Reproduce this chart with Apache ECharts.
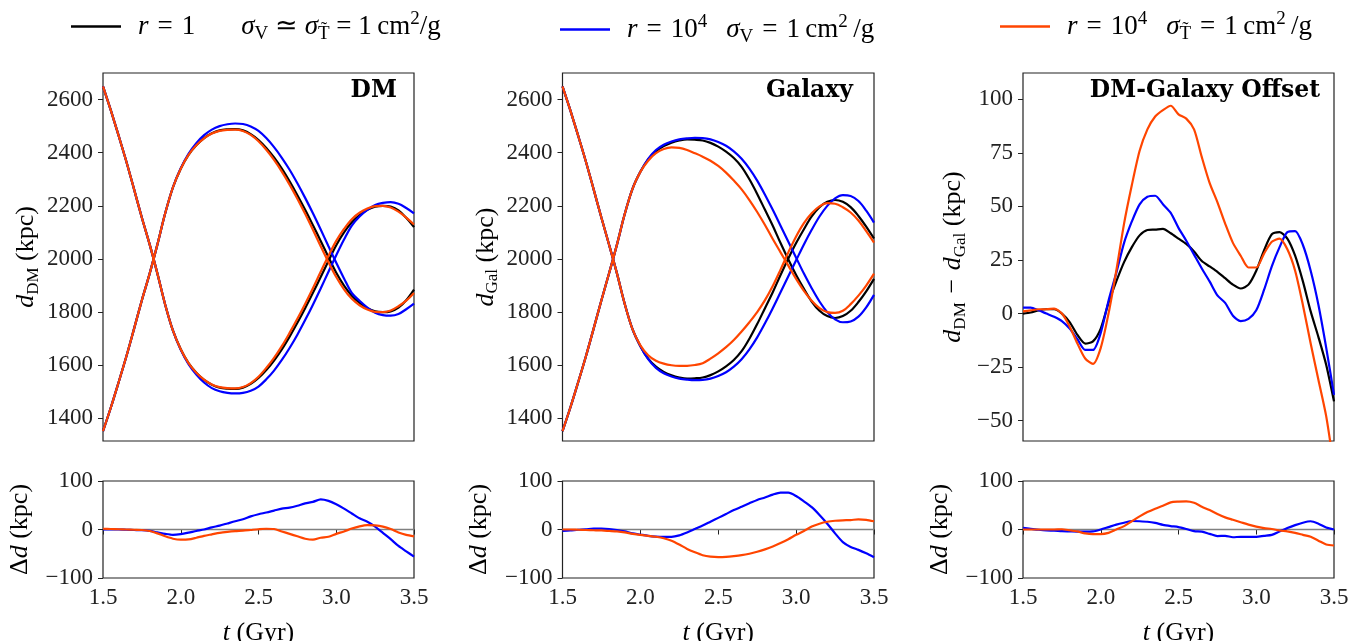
<!DOCTYPE html>
<html><head><meta charset="utf-8">
<script src="https://cdn.jsdelivr.net/npm/echarts@6/dist/echarts.min.js"></script>
<style>html,body{margin:0;padding:0;background:#fff}#c{width:1360px;height:641px}</style>
</head><body><div id="c"></div>
<script>
// ---------------- data ----------------
const tFine = [1.5,1.55,1.6,1.65,1.7,1.75,1.8,1.85,1.9,1.95,2.0,2.05,2.1,2.15,2.2,2.25,2.3,2.35,2.4,2.45,2.5,2.55,2.6,2.65,2.7,2.75,2.8,2.85,2.9,2.95,3.0,3.05,3.1,3.15,3.2,3.25,3.3,3.35,3.4,3.45,3.5];

// DM positions (kpc)
const dmBlackAsc   = [1352,1440,1535,1633,1738,1845,1945,2055,2172,2270,2340,2392,2428,2455,2473,2484,2488,2489,2484,2470,2448,2418,2382,2340,2292,2240,2185,2127,2068,2007,1948,1900,1862,1835,1815,1803,1800,1803,1817,1845,1885];
const dmBlackDesc  = [2650,2560,2465,2367,2262,2155,2055,1945,1828,1730,1660,1608,1572,1545,1527,1516,1512,1511,1516,1530,1552,1582,1618,1660,1708,1760,1815,1873,1932,1993,2052,2100,2138,2165,2185,2197,2200,2197,2183,2155,2120];
const dmBlueAsc    = [1352,1440,1535,1633,1738,1845,1945,2055,2172,2270,2342,2396,2436,2466,2487,2500,2507,2510,2508,2499,2482,2455,2421,2381,2336,2285,2230,2172,2111,2048,1986,1927,1872,1843,1817,1798,1789,1787,1793,1811,1832];
const dmBlueDesc   = [2650,2560,2465,2367,2262,2155,2055,1945,1828,1730,1658,1604,1565,1535,1514,1502,1496,1494,1496,1504,1520,1547,1580,1620,1665,1715,1770,1828,1889,1952,2014,2073,2126,2160,2185,2203,2211,2214,2208,2192,2172];
const dmOrangeAsc  = [1352,1440,1535,1633,1738,1845,1945,2055,2172,2270,2340,2392,2428,2454,2472,2482,2486,2487,2482,2467,2443,2411,2373,2329,2280,2227,2170,2110,2048,1988,1932,1886,1850,1826,1810,1801,1800,1806,1822,1843,1872];
const dmOrangeDesc = [2650,2560,2465,2367,2262,2155,2055,1945,1828,1730,1660,1608,1572,1546,1528,1518,1514,1513,1518,1533,1557,1590,1628,1672,1722,1775,1831,1890,1952,2012,2068,2113,2150,2174,2190,2199,2200,2194,2178,2156,2130];

// Galaxy positions (kpc)
const galBlackAsc   = [1352,1440,1535,1633,1738,1845,1948,2055,2170,2265,2328,2375,2405,2425,2438,2446,2450,2449,2446,2437,2423,2404,2380,2347,2300,2245,2185,2125,2060,1998,1940,1888,1840,1805,1785,1778,1785,1805,1838,1878,1925];
const galBlackDesc  = [2650,2560,2465,2367,2262,2155,2052,1945,1830,1735,1672,1625,1595,1575,1562,1554,1550,1551,1554,1563,1577,1596,1620,1653,1700,1755,1815,1875,1940,2002,2060,2112,2160,2195,2215,2222,2215,2195,2162,2122,2077];
const galBlueAsc    = [1352,1440,1535,1633,1738,1845,1948,2055,2170,2265,2328,2377,2410,2430,2442,2450,2454,2456,2455,2450,2440,2426,2405,2377,2340,2295,2242,2185,2125,2065,2005,1945,1890,1840,1800,1773,1762,1765,1783,1818,1865];
const galBlueDesc   = [2650,2560,2465,2367,2262,2155,2052,1945,1830,1735,1672,1623,1590,1570,1558,1550,1546,1544,1545,1550,1560,1574,1595,1623,1660,1705,1758,1815,1875,1935,1995,2055,2110,2160,2200,2228,2240,2237,2218,2182,2137];
const galOrangeAsc  = [1352,1440,1535,1633,1738,1845,1948,2055,2170,2265,2328,2370,2398,2414,2420,2418,2410,2398,2385,2370,2350,2325,2295,2262,2222,2177,2128,2075,2025,1975,1925,1880,1843,1815,1800,1797,1805,1830,1862,1900,1945];
const galOrangeDesc = [2650,2560,2465,2367,2262,2155,2052,1945,1830,1735,1675,1638,1617,1606,1600,1598,1598,1601,1608,1625,1645,1668,1695,1727,1762,1800,1845,1898,1960,2025,2085,2135,2172,2198,2210,2208,2195,2175,2145,2105,2062];

// DM - Galaxy offset (kpc)
const offBlack  = [0,0.5,1.5,2,2,0,-4,-10,-14,-13,-7,5,15,24,31,36.5,39,39.2,39.5,37.5,35,32.5,29,24.5,22,19.5,16.5,13.5,11.7,13.5,20,29.5,37,38,35,27,15,1,-11,-24,-41];
const offBlue   = [2.8,2.8,1.5,0,-1.5,-3.5,-7,-12,-17,-17,-9,6,19,33,43,51,54.5,55,51,47,40,34,27.5,21,15,8.5,5,-1,-3.5,-2.5,1.5,11,22,31,38,38.5,32,20,4,-16,-38];
const offOrange = [1,1.5,2,2,2.3,0,-6,-14,-21,-23.5,-16,0,20,42,60,76,86,92,95,97,93,91,86,73,61,52,42,33,27,21.5,21.5,28,33.5,35,30,20,4,-14,-31,-48,-72];

// Delta d (kpc)
const ddDmBlue    = [0,0,0,-0.5,-1,-1.5,-3,-6,-9,-11,-9.5,-6.5,-3,0,4.5,8,12.5,17,21,27,31.5,35,39,43,45,49,54,57,62,59,52,43,33,23,16,6,-7,-20,-34,-45,-56];
const ddDmOrange  = [1.5,1,0.5,0,-0.5,-1,-3,-8,-14,-19,-21,-20.5,-17,-13,-10,-7,-5,-3.5,-2.5,-1,0.5,1.5,1,-4,-9,-14,-19,-21,-17,-15,-9,-4,2,6.5,9,8.5,6,1,-6,-11,-14];
const ddGalBlue   = [-3,-2,-0.5,0.5,2,2,1,-1,-4,-8,-10.5,-13,-14.5,-15,-15,-12,-6,1,8,16,24,32,40,47,54,61,66,72,76,76,69,58,46,30,12,-8,-26,-36,-42,-49,-57];
const ddGalOrange = [0,0,-0.5,-1,-1.5,-2,-3,-4,-6,-9,-11,-13,-15,-18,-23,-31,-40,-47,-53,-56,-57,-56.5,-55,-53,-50,-46,-41,-35,-28,-20,-11,-3,6,12,16,18,19,19.5,21,20,17];
const ddOffBlue   = [3.5,1.5,-0.5,-2,-2.5,-3.5,-4,-4.5,-4.5,-4,0,5,10,14,17.5,17,16,13.5,9.5,7,5,1,-3.5,-4.5,-9,-13.5,-13,-16,-15,-15,-15,-13,-11,-4,3,9,14,17,12,4,0];
const ddOffOrange = [0,0,0,0,0,0.5,-1.5,-4,-8,-9.5,-9.5,-7,0,7,17,27,36,43,49,56,57.5,58,55,47,40,32,25,20,15,10,6,3,1,-2,-4,-7,-11,-15,-23,-31,-33];

// tick labels / texts
const topYTicks = [1400,1600,1800,2000,2200,2400,2600];
const offYTicks = [-50,-25,0,25,50,75,100];
const titles = ['DM','Galaxy','DM-Galaxy Offset'];

// ---------------- styling ----------------
const C_BLACK = '#000000', C_BLUE = '#0000ff', C_ORANGE = '#ff4500';
const SERIF = 'Liberation Serif';
function richSet(fs, sub) {
  return {
    i:   {fontFamily: SERIF, fontStyle: 'italic', fontSize: fs, color: '#000'},
    sub: {fontFamily: SERIF, fontSize: sub, color: '#000', padding: [Math.round(fs * 0.55), 0, 0, 0]},
    sup: {fontFamily: SERIF, fontSize: sub, color: '#000', padding: [0, 0, Math.round(fs * 0.5), 0]}
  };
}
const RICH_AX = richSet(26, 17);
const RICH_LG = richSet(27, 19);
const fmtNum = v => (v < 0 ? '\u2212' + Math.abs(v) : String(v));

const lefts = [103, 562.5, 1023];
const widths = [311, 311.5, 311];
const grids = [];
for (let k = 0; k < 3; k++) grids.push({left: lefts[k], top: 73, width: widths[k], height: 368, outerBoundsMode: 'none', containLabel: false, show: true, borderColor: '#222', borderWidth: 1.2, backgroundColor: 'transparent'});
for (let k = 0; k < 3; k++) grids.push({left: lefts[k], top: 481, width: widths[k], height: 97, outerBoundsMode: 'none', containLabel: false, show: true, borderColor: '#222', borderWidth: 1.2, backgroundColor: 'transparent'});

const xAxes = [], yAxes = [];
for (let g = 0; g < 6; g++) {
  const bottom = g >= 3;
  xAxes.push({
    type: 'value', gridIndex: g, min: 1.5, max: 3.5, interval: 0.5,
    axisLine: {show: false}, splitLine: {show: false},
    axisTick: {show: bottom, length: 5, lineStyle: {color: '#222'}},
    axisLabel: {show: bottom, formatter: v => v.toFixed(1), fontFamily: SERIF, fontSize: 23, color: '#222', margin: 8},
    name: bottom ? '{i|t} (Gyr)' : '', nameLocation: 'middle', nameGap: 42,
    nameTextStyle: {fontFamily: SERIF, fontSize: 26, color: '#000', rich: RICH_AX}
  });
}
const yNames = ['{i|d}{sub|DM} (kpc)', '{i|d}{sub|Gal} (kpc)', '{i|d}{sub|DM}\u2004\u2212\u2004{i|d}{sub|Gal} (kpc)'];
for (let g = 0; g < 6; g++) {
  const base = {
    type: 'value', gridIndex: g,
    axisLine: {show: false}, splitLine: {show: false},
    axisTick: {show: true, length: 5, lineStyle: {color: '#222'}},
    axisLabel: {formatter: fmtNum, fontFamily: SERIF, fontSize: 23, color: '#222', margin: 10},
    nameLocation: 'middle', nameRotate: 90,
    nameTextStyle: {fontFamily: SERIF, fontSize: 26, color: '#000', rich: RICH_AX}
  };
  if (g < 2) {
    Object.assign(base, {min: 1315, max: 2700, name: yNames[g], nameGap: 61});
    base.axisTick.customValues = topYTicks;
    base.axisLabel.customValues = topYTicks;
  } else if (g === 2) {
    Object.assign(base, {min: -59.5, max: 112.3, name: yNames[2], nameGap: 54});
    base.axisTick.customValues = offYTicks;
    base.axisLabel.customValues = offYTicks;
  } else {
    Object.assign(base, {min: -100, max: 100, interval: 100, name: '\u0394{i|d} (kpc)', nameGap: 70});
  }
  yAxes.push(base);
}

function mk(name, g, xs, ys, color, smooth) {
  return {
    type: 'line', name: name, xAxisIndex: g, yAxisIndex: g,
    data: xs.map((t, k) => [t, ys[k]]),
    symbol: 'none', showSymbol: false, smooth: smooth, clip: true,
    lineStyle: {color: color, width: 2.2}, itemStyle: {color: color},
    animation: false, emphasis: {disabled: true}
  };
}
function zeroLine(g) {
  return {
    type: 'line', xAxisIndex: g, yAxisIndex: g, data: [[tFine[0], 0], [tFine[tFine.length - 1], 0]],
    symbol: 'none', lineStyle: {color: '#808080', width: 1.6}, animation: false, silent: true
  };
}
const S = 0.35, F = 0.25;
const series = [
  mk('A', 0, tFine, dmBlackDesc, C_BLACK, S), mk('A', 0, tFine, dmBlackAsc, C_BLACK, S),
  mk('B', 0, tFine, dmBlueDesc, C_BLUE, S), mk('B', 0, tFine, dmBlueAsc, C_BLUE, S),
  mk('C', 0, tFine, dmOrangeDesc, C_ORANGE, S), mk('C', 0, tFine, dmOrangeAsc, C_ORANGE, S),
  mk('A', 1, tFine, galBlackDesc, C_BLACK, S), mk('A', 1, tFine, galBlackAsc, C_BLACK, S),
  mk('B', 1, tFine, galBlueDesc, C_BLUE, S), mk('B', 1, tFine, galBlueAsc, C_BLUE, S),
  mk('C', 1, tFine, galOrangeDesc, C_ORANGE, S), mk('C', 1, tFine, galOrangeAsc, C_ORANGE, S),
  mk('A', 2, tFine, offBlack, C_BLACK, F), mk('B', 2, tFine, offBlue, C_BLUE, F), mk('C', 2, tFine, offOrange, C_ORANGE, F),
  zeroLine(3), mk('B', 3, tFine, ddDmBlue, C_BLUE, F), mk('C', 3, tFine, ddDmOrange, C_ORANGE, F),
  zeroLine(4), mk('B', 4, tFine, ddGalBlue, C_BLUE, F), mk('C', 4, tFine, ddGalOrange, C_ORANGE, F),
  zeroLine(5), mk('B', 5, tFine, ddOffBlue, C_BLUE, F), mk('C', 5, tFine, ddOffOrange, C_ORANGE, F)
];

const legendText = {
  A: '{i|r}\u2004=\u20041\u2003\u2002\u2009{i|\u03c3}{sub|V} \u2243 {i|\u03c3}{sub|T\u0303} = 1\u2009cm{sup|2}/g',
  B: '{i|r}\u2004=\u200410{sup|4}\u2002\u2009{i|\u03c3}{sub|V}\u2004=\u20041\u2009cm{sup|2}\u2009/g',
  C: '{i|r}\u2004=\u200410{sup|4}\u2002\u2009{i|\u03c3}{sub|T\u0303}\u2004=\u20041\u2009cm{sup|2}\u2009/g'
};
const legendPos = [['A', 71, 10, C_BLACK], ['B', 560, 13, C_BLUE], ['C', 1000, 10, C_ORANGE]];
const legends = legendPos.map(([n, x, y, c]) => ({
  data: [{name: n, itemStyle: {color: c}}], left: x, top: y, icon: 'rect', itemWidth: 50, itemHeight: 2.6,
  formatter: nm => legendText[nm], selectedMode: false, padding: 0,
  textStyle: {fontFamily: SERIF, fontSize: 27, color: '#000', rich: RICH_LG, padding: [0, 0, 0, 12]}
}));

const titleX = [397, 853, 1320];
const graphic = titles.map((t, k) => ({
  type: 'text', x: titleX[k], y: 91,
  style: {text: t, font: 'bold 23.5px "DejaVu Serif"', fill: '#000', textAlign: 'right', textVerticalAlign: 'middle'}
}));

const chart = echarts.init(document.getElementById('c'), null, {renderer: 'canvas'});
chart.setOption({
  animation: false, backgroundColor: '#fff',
  grid: grids, xAxis: xAxes, yAxis: yAxes, series: series, legend: legends, graphic: graphic
});
</script></body></html>
